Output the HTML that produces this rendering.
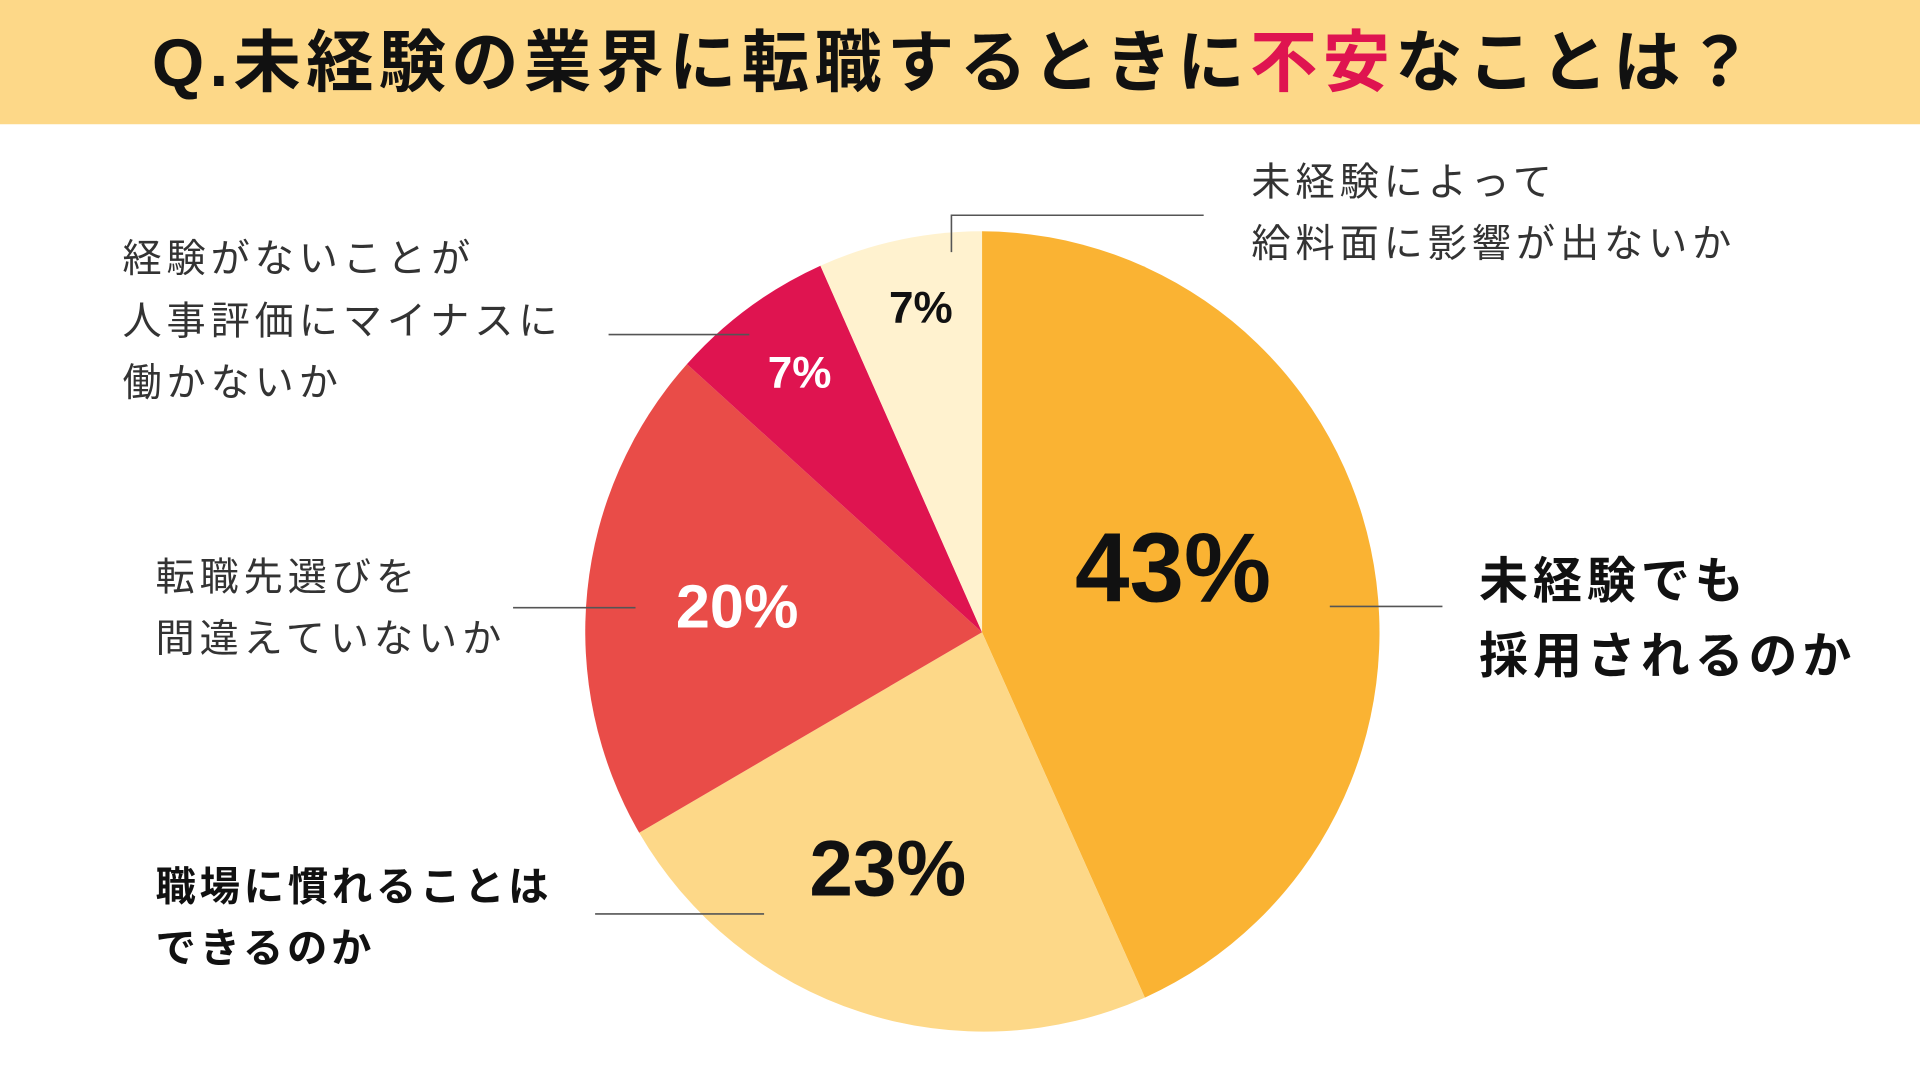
<!DOCTYPE html>
<html><head><meta charset="utf-8"><style>
html,body{margin:0;padding:0;background:#fff;width:1920px;height:1080px;overflow:hidden}
svg{display:block}
text{font-family:"Liberation Sans","Noto Sans CJK JP",sans-serif}
</style></head><body>
<svg width="1920" height="1080" viewBox="0 0 1568 878" preserveAspectRatio="none" xmlns="http://www.w3.org/2000/svg">
<rect x="0" y="0" width="1568" height="878" fill="#fff"/>
<rect x="0" y="0" width="1568" height="101" fill="#FDD888"/>
<text x="780" y="70" text-anchor="middle" font-size="55" font-weight="bold" fill="#111" letter-spacing="4.3">Q.未経験の業界に転職するときに<tspan fill="#DF1450">不安</tspan>なことは？</text>
<g>
<path d="M802,514 L802,188 A326,326 0 0 1 935,811 Z" fill="#FAB333"/>
<path d="M802,514 L935,811 A326,326 0 0 1 522,677 Z" fill="#FDD888"/>
<path d="M802,514 L522,677 A326,326 0 0 1 561,296 Z" fill="#E94C48"/>
<path d="M802,514 L561,296 A326,326 0 0 1 670,216 Z" fill="#DF1450"/>
<path d="M802,514 L670,216 A326,326 0 0 1 802,188 Z" fill="#FFF2CF"/>
</g>
<g stroke="#555" stroke-width="1.3" fill="none">
<polyline points="777,205 777,175 983,175"/>
<line x1="497" y1="272" x2="612" y2="272"/>
<line x1="419" y1="494" x2="519" y2="494"/>
<line x1="486" y1="743" x2="624" y2="743"/>
<line x1="1086" y1="493" x2="1178" y2="493"/>
</g>
<g font-size="32" fill="#333" letter-spacing="4">
<text x="1022" y="159">未経験によって</text>
<text x="1022" y="209">給料面に影響が出ないか</text>
<text x="100" y="221">経験がないことが</text>
<text x="100" y="272">人事評価にマイナスに</text>
<text x="100" y="322">働かないか</text>
<text x="127" y="480">転職先選びを</text>
<text x="127" y="530">間違えていないか</text>
</g>
<g font-size="33" fill="#111" font-weight="bold" letter-spacing="3">
<text x="127" y="732">職場に慣れることは</text>
<text x="127" y="782">できるのか</text>
</g>
<g font-size="40" fill="#111" font-weight="bold" letter-spacing="4">
<text x="1208" y="486">未経験でも</text>
<text x="1208" y="547">採用されるのか</text>
</g>
<g font-weight="bold" text-anchor="middle">
<text x="958" y="489" font-size="80" fill="#111">43%</text>
<text x="725" y="728" font-size="64" fill="#111">23%</text>
<text x="602" y="510" font-size="50" fill="#fff">20%</text>
<text x="653" y="315" font-size="36" fill="#fff">7%</text>
<text x="752" y="262" font-size="36" fill="#111">7%</text>
</g>
</svg>
</body></html>
